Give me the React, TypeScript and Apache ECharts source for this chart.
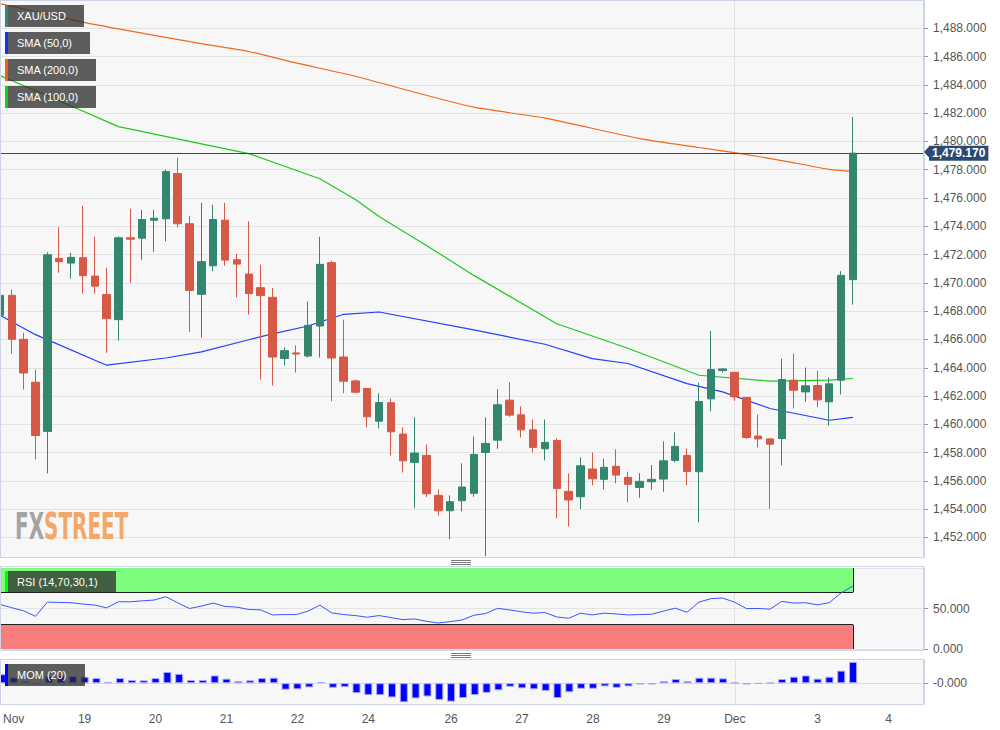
import React, { useEffect, useRef } from 'react';
import * as echarts from 'echarts';

// ---------- DATA ----------
// 4-hour candles: [open, high, low, close]
const candles: [number, number, number, number][] = [
  [1467.71, 1469.68, 1467.35, 1469.12],
  [1469.12, 1469.52, 1465.0, 1466.01],
  [1466.01, 1466.48, 1462.46, 1463.63],
  [1462.98, 1463.87, 1457.52, 1459.21],
  [1459.5, 1472.17, 1456.53, 1471.99],
  [1471.73, 1473.94, 1470.72, 1471.5],
  [1471.4, 1472.13, 1470.3, 1471.8],
  [1471.78, 1475.45, 1469.24, 1470.51],
  [1470.48, 1473.26, 1469.24, 1469.77],
  [1469.17, 1471.07, 1465.07, 1467.47],
  [1467.4, 1473.28, 1465.92, 1473.19],
  [1473.19, 1475.24, 1470.01, 1473.09],
  [1473.16, 1475.17, 1471.64, 1474.48],
  [1474.43, 1475.17, 1472.2, 1474.57],
  [1474.53, 1478.01, 1472.93, 1477.87],
  [1477.73, 1478.86, 1473.94, 1474.18],
  [1474.18, 1474.74, 1466.53, 1469.47],
  [1469.19, 1475.66, 1466.13, 1471.5],
  [1471.21, 1475.52, 1470.83, 1474.48],
  [1474.43, 1475.66, 1471.21, 1471.61],
  [1471.64, 1472.06, 1468.98, 1471.33],
  [1470.62, 1474.36, 1467.76, 1469.24],
  [1469.66, 1471.28, 1463.17, 1469.1],
  [1468.98, 1469.63, 1462.74, 1464.76],
  [1464.65, 1465.45, 1464.16, 1465.21],
  [1465.05, 1465.59, 1463.66, 1464.97],
  [1464.83, 1468.69, 1464.72, 1467.0],
  [1466.95, 1473.26, 1464.72, 1471.31],
  [1471.43, 1471.57, 1461.64, 1464.69],
  [1464.76, 1467.4, 1462.2, 1463.05],
  [1463.07, 1463.17, 1462.18, 1462.27],
  [1462.53, 1462.57, 1459.78, 1460.53],
  [1460.22, 1462.18, 1459.71, 1461.54],
  [1461.53, 1461.83, 1457.8, 1459.47],
  [1459.31, 1459.78, 1456.6, 1457.42],
  [1457.31, 1460.51, 1454.06, 1457.97],
  [1457.8, 1458.58, 1454.86, 1455.09],
  [1454.98, 1455.4, 1453.54, 1453.89],
  [1453.89, 1454.98, 1451.87, 1454.53],
  [1454.6, 1457.24, 1453.85, 1455.57],
  [1455.12, 1459.14, 1454.88, 1457.87],
  [1458.01, 1460.49, 1450.67, 1458.65],
  [1458.88, 1462.48, 1458.27, 1461.38],
  [1461.71, 1462.98, 1460.53, 1460.65],
  [1460.67, 1461.26, 1459.07, 1459.61],
  [1459.61, 1460.34, 1458.01, 1458.37],
  [1458.27, 1460.34, 1457.45, 1458.72],
  [1458.86, 1459.0, 1453.36, 1455.47],
  [1455.26, 1456.53, 1452.79, 1454.65],
  [1454.88, 1457.66, 1454.01, 1457.07],
  [1456.84, 1458.01, 1455.69, 1456.15],
  [1456.11, 1457.58, 1455.4, 1456.96],
  [1457.03, 1458.23, 1455.83, 1456.41],
  [1456.25, 1456.65, 1454.49, 1455.76],
  [1455.54, 1456.55, 1454.81, 1455.97],
  [1455.94, 1457.12, 1455.37, 1456.11],
  [1456.13, 1458.79, 1455.23, 1457.42],
  [1457.45, 1459.43, 1457.31, 1458.44],
  [1457.8, 1458.3, 1455.69, 1456.67],
  [1456.65, 1462.93, 1453.07, 1461.61],
  [1461.8, 1466.6, 1460.93, 1463.87],
  [1463.8, 1463.95, 1463.66, 1463.92],
  [1463.68, 1463.7, 1461.66, 1461.94],
  [1461.9, 1461.92, 1458.97, 1459.07],
  [1459.17, 1460.7, 1458.37, 1458.97],
  [1458.97, 1459.0, 1454.03, 1458.6],
  [1459.0, 1464.65, 1457.1, 1463.17],
  [1463.12, 1465.0, 1461.12, 1462.41],
  [1462.29, 1464.01, 1461.59, 1462.72],
  [1462.74, 1463.8, 1461.23, 1461.73],
  [1461.59, 1463.31, 1459.92, 1462.86],
  [1463.12, 1470.83, 1462.11, 1470.53],
  [1470.23, 1481.73, 1468.46, 1479.17],
];

// total slots on the time axis (candles + empty space on the right)
const slotCount = 79;

// day labels on the time axis: slot index and text
const dayTickIndex = [1, 7, 13, 19, 25, 31, 38, 44, 50, 56, 62, 69, 75];
const dayTickLabel = ['Nov', '19', '20', '21', '22', '24', '26', '27', '28', '29', 'Dec', '3', '4'];
const monthLineIndex = 62;

// moving averages read at [slot, value]
const sma50Points: [number, number][] = [
  [0, 1467.71], [3, 1466.34], [9, 1464.18], [14, 1464.69], [17, 1465.12], [21, 1465.98],
  [23, 1466.4], [26, 1466.95], [29, 1467.78], [32, 1467.94], [40, 1466.68], [46, 1465.66],
  [50, 1464.65], [53, 1464.3], [58, 1462.88], [61, 1462.29], [65, 1461.12], [70, 1460.29],
  [72, 1460.49],
];
const sma100Points: [number, number][] = [
  [0, 1484.65], [5, 1482.88], [10, 1481.05], [17, 1479.83], [21, 1479.14], [27, 1477.36],
  [30, 1475.9], [32, 1474.69], [36, 1472.65], [40, 1470.53], [47, 1467.11], [53, 1465.38],
  [59, 1463.47], [65, 1463.05], [70, 1463.12], [72, 1463.24],
];
const sma200Points: [number, number][] = [
  [0, 1489.75], [7, 1488.44], [10, 1487.96], [17, 1486.91], [21, 1486.36], [25, 1485.55],
  [30, 1484.61], [35, 1483.48], [40, 1482.42], [46, 1481.65], [54, 1480.2], [59, 1479.57],
  [62, 1479.21], [66, 1478.65], [70, 1478.03], [72, 1477.89],
];

// RSI (14) per candle
const rsiValues = [
  55, 51, 47, 40.4, 57.9, 57.5, 57.1, 55.5, 54.2, 50.8,
  58.3, 58.3, 59.5, 60.4, 64.6, 57, 50, 53, 56.7, 52.5,
  51.7, 48.8, 48.3, 42.1, 42.5, 42.5, 46.7, 54.2, 44.6, 42.5,
  41.3, 39.2, 41.3, 38.8, 36.3, 37.1, 34.2, 32.1, 33.8, 35.8,
  41.7, 43.8, 50.2, 48.3, 46, 44.2, 45, 39.6, 37.9, 44.2,
  42.1, 44.2, 43.3, 42.1, 42.5, 42.9, 46.7, 50.4, 45.4, 57.9,
  62.1, 62.9, 57.9, 50, 50, 49.2, 58.8, 56.7, 57.1, 54.6,
  57.1, 69.2, 77.9,
];
const rsiUpper = 70;
const rsiLower = 30;

// Momentum (20) per candle
const momValues = [
  9.3, 6, 2, -1, 7.5, 8, 7.5, 6.7, 5.3, 1.3,
  5.3, 3.3, 3, 5.3, 11.7, 9.7, 3.3, 3.3, 8, 4.7,
  2.3, 3, 5.3, 5.7, -6.7, -6.3, -4.3, 1, -4.7, -4,
  -10.3, -12.3, -12.3, -14.7, -19.7, -15.7, -13.7, -17.3, -19, -15.3,
  -12.3, -10, -7.3, -3.7, -5.3, -6.3, -8, -15.3, -9.3, -5.7,
  -5.7, -3.3, -4.7, -3.3, -1.3, -1.3, 2.3, 4.3, 2.3, 5.7,
  5.7, 5, 0.5, -1.3, -0.5, 0.3, 4.3, 6.7, 8, 4.7,
  6.7, 13, 22,
];

const priceMin = 1450;
const priceMax = 1490;
const priceStep = 2;

// ---------- CHART ----------
const fmt3 = (v: number) =>
  v.toLocaleString('en-US', { minimumFractionDigits: 3, maximumFractionDigits: 3 });

const UP = '#33876f';
const DOWN = '#d65846';
const FONT = '"Liberation Sans", Arial, sans-serif';
const BORDER = '#cdd4e6';
const BG = '#f7f7f7';
const NAVY = '#2b4a72';

function legendBox(x: number, y: number, w: number, h: number, stripe: string, text: string) {
  return {
    type: 'group',
    z: 60,
    children: [
      { type: 'rect', shape: { x, y, width: w, height: h }, style: { fill: 'rgba(45,45,45,0.76)' }, z: 60 },
      { type: 'rect', shape: { x, y, width: 3, height: h }, style: { fill: stripe }, z: 61 },
      {
        type: 'text',
        x: x + 12,
        y: y + h / 2,
        z: 62,
        style: { text, fill: '#ffffff', font: `11px ${FONT}`, verticalAlign: 'middle', align: 'left' },
      },
    ],
  };
}

function separator(cx: number, y: number) {
  return {
    type: 'group',
    z: 70,
    children: [0, 2, 4].map((d) => ({
      type: 'line',
      z: 70,
      shape: { x1: cx - 10, y1: y + d + 0.5, x2: cx + 10, y2: y + d + 0.5 },
      style: { stroke: '#7a7a7a', lineWidth: 1 },
    })),
  };
}

export default function App() {
  const ref = useRef<HTMLDivElement>(null);

  useEffect(() => {
    if (!ref.current) return;
    const chart = echarts.init(ref.current, null, { renderer: 'svg' });

    const categories = Array.from({ length: slotCount }, (_, i) => 'c' + i);
    const lastIdx = candles.length - 1;
    const lastClose = candles[lastIdx][3];
    const candleData = candles.map(([o, h, l, c]) => [o, c, l, h]);
    const toLine = (pts: [number, number][]) => pts.map(([i, v]) => [categories[i], v]);

    const makeX = (gridIndex: number, showLabels: boolean) => ({
      type: 'category',
      gridIndex,
      data: categories,
      boundaryGap: false,
      axisLine: { show: false },
      axisTick: { show: false },
      axisLabel: showLabels
        ? {
            show: true,
            interval: (index: number) => dayTickIndex.includes(index),
            formatter: (_v: string, index: number) => {
              const k = dayTickIndex.indexOf(index);
              return k >= 0 ? dayTickLabel[k] : '';
            },
            color: '#555',
            fontSize: 12,
            fontFamily: FONT,
            margin: 8,
          }
        : { show: false },
      splitLine: {
        show: true,
        interval: (index: number) => index === monthLineIndex,
        lineStyle: { color: '#e2e2e2', width: 1 },
      },
    });

    const option: any = {
      animation: false,
      backgroundColor: '#ffffff',
      textStyle: { fontFamily: FONT },
      grid: [
        { left: 0, right: 76, top: -0.83, height: 566.6, show: true, backgroundColor: BG, borderWidth: 0 },
        { left: 0, right: 76, top: 568, height: 81, show: true, backgroundColor: BG, borderWidth: 0 },
        { left: 0, right: 76, top: 659.5, height: 45, show: true, backgroundColor: BG, borderWidth: 0 },
      ],
      xAxis: [makeX(0, false), makeX(1, false), makeX(2, true)],
      yAxis: [
        {
          type: 'value',
          gridIndex: 0,
          position: 'right',
          min: priceMin,
          max: priceMax,
          interval: priceStep,
          axisLine: { show: true, lineStyle: { color: BORDER } },
          axisTick: { show: true, length: 4, lineStyle: { color: '#999' } },
          axisLabel: {
            color: '#555',
            fontSize: 12,
            margin: 9,
            showMinLabel: false,
            showMaxLabel: false,
            formatter: (v: number) => fmt3(v),
          },
          splitLine: { show: true, lineStyle: { color: '#e3e3e3' } },
        },
        {
          type: 'value',
          gridIndex: 1,
          position: 'right',
          min: 0,
          max: 100,
          interval: 50,
          axisLine: { show: true, lineStyle: { color: BORDER } },
          axisTick: { show: true, length: 4, lineStyle: { color: '#999' } },
          axisLabel: {
            color: '#555',
            fontSize: 12,
            margin: 9,
            showMaxLabel: false,
            formatter: (v: number) => fmt3(v),
          },
          splitLine: { show: true, lineStyle: { color: '#e3e3e3' } },
        },
        {
          type: 'value',
          gridIndex: 2,
          position: 'right',
          min: -22,
          max: 24.5,
          axisLine: { show: true, lineStyle: { color: BORDER } },
          axisTick: { show: true, length: 4, lineStyle: { color: '#999' }, customValues: [0] },
          axisLabel: {
            color: '#555',
            fontSize: 12,
            margin: 9,
            customValues: [0],
            formatter: (v: number) => (v === 0 ? '-0.000' : ''),
          },
          splitLine: { show: false },
        },
      ],
      series: [
        {
          type: 'candlestick',
          name: 'XAU/USD',
          xAxisIndex: 0,
          yAxisIndex: 0,
          data: candleData,
          barWidth: 8,
          z: 5,
          itemStyle: {
            color: UP,
            color0: DOWN,
            borderColor: UP,
            borderColor0: DOWN,
            borderWidth: 1,
          },
          markLine: {
            silent: true,
            symbol: ['none', 'none'],
            lineStyle: { color: NAVY, width: 1, type: 'solid' },
            label: {
              show: true,
              position: 'end',
              formatter: () => fmt3(lastClose),
              color: '#ffffff',
              fontWeight: 'bold',
              fontSize: 12,
              backgroundColor: NAVY,
              padding: [2, 3, 1, 3],
              distance: 5,
            },
            data: [{ yAxis: lastClose }],
          },
        },
        {
          type: 'line',
          name: 'SMA (200,0)',
          xAxisIndex: 0,
          yAxisIndex: 0,
          data: toLine(sma200Points),
          symbol: 'none',
          smooth: 0.2,
          z: 4,
          lineStyle: { color: '#ee6a1a', width: 1.2 },
        },
        {
          type: 'line',
          name: 'SMA (100,0)',
          xAxisIndex: 0,
          yAxisIndex: 0,
          data: toLine(sma100Points),
          symbol: 'none',
          z: 4,
          lineStyle: { color: '#1ec81e', width: 1.2 },
        },
        {
          type: 'line',
          name: 'SMA (50,0)',
          xAxisIndex: 0,
          yAxisIndex: 0,
          data: toLine(sma50Points),
          symbol: 'none',
          z: 4,
          lineStyle: { color: '#2040ff', width: 1.2 },
        },
        {
          type: 'line',
          name: 'RSI',
          xAxisIndex: 1,
          yAxisIndex: 1,
          data: rsiValues,
          symbol: 'none',
          z: 5,
          lineStyle: { color: '#3a55ff', width: 1 },
          markArea: {
            silent: true,
            data: [
              [
                { xAxis: categories[0], yAxis: rsiUpper, itemStyle: { color: '#7dfc7d' } },
                { xAxis: categories[lastIdx], yAxis: 100 },
              ],
              [
                { xAxis: categories[0], yAxis: 0, itemStyle: { color: '#f87d7d' } },
                { xAxis: categories[lastIdx], yAxis: rsiLower },
              ],
            ],
          },
          markLine: {
            silent: true,
            symbol: ['none', 'none'],
            label: { show: false },
            lineStyle: { color: '#1e1e1e', width: 1, type: 'solid' },
            data: [
              [{ coord: [categories[0], rsiUpper] }, { coord: [categories[lastIdx], rsiUpper] }],
              [{ coord: [categories[lastIdx], rsiUpper] }, { coord: [categories[lastIdx], 100] }],
              [{ coord: [categories[0], rsiLower] }, { coord: [categories[lastIdx], rsiLower] }],
              [{ coord: [categories[lastIdx], 0] }, { coord: [categories[lastIdx], rsiLower] }],
            ],
          },
        },
        {
          type: 'bar',
          name: 'MOM',
          xAxisIndex: 2,
          yAxisIndex: 2,
          data: momValues,
          barWidth: 8,
          z: 5,
          itemStyle: { color: '#0000ff', borderColor: '#a8a8ff', borderWidth: 1 },
          markLine: {
            silent: true,
            symbol: ['none', 'none'],
            label: { show: false },
            lineStyle: { color: '#dcdcdc', width: 1, type: 'solid' },
            data: [{ yAxis: 0 }],
          },
        },
      ],
      graphic: [
        // watermark
        {
          type: 'text',
          x: 15,
          y: 508,
          scaleX: 0.6,
          z: 1,
          style: {
            text: '{a|FX}{b|STREET}',
            rich: {
              a: { fill: '#a4a4a4', fontSize: 37, fontWeight: 'bold', fontFamily: '"Liberation Sans Narrow", "DejaVu Sans Condensed", sans-serif' },
              b: { fill: '#f2a86a', fontSize: 37, fontWeight: 'bold', fontFamily: '"Liberation Sans Narrow", "DejaVu Sans Condensed", sans-serif' },
            },
          },
        },
        // white gap under main panel
        { type: 'rect', z: 50, shape: { x: 0, y: 557.5, width: 1000, height: 8.5 }, style: { fill: '#ffffff' } },
        // panel borders
        { type: 'rect', z: 55, shape: { x: 0.5, y: 0.5, width: 923, height: 557 }, style: { fill: 'none', stroke: BORDER, lineWidth: 1 } },
        { type: 'rect', z: 55, shape: { x: 0.5, y: 566.5, width: 923, height: 84 }, style: { fill: 'none', stroke: BORDER, lineWidth: 1 } },
        { type: 'rect', z: 55, shape: { x: 0.5, y: 659.5, width: 923, height: 45 }, style: { fill: 'none', stroke: BORDER, lineWidth: 1 } },
        // price tag arrow tip
        {
          type: 'polygon',
          z: 58,
          shape: { points: [[924, 152], [929, 146.5], [929, 157.5]] },
          style: { fill: NAVY },
        },
        separator(461, 560),
        separator(461, 653),
        legendBox(5, 5, 79, 22, '#2e8b77', 'XAU/USD'),
        legendBox(5, 32, 85, 22, '#1030ff', 'SMA (50,0)'),
        legendBox(5, 59, 91, 22, '#f06010', 'SMA (200,0)'),
        legendBox(5, 86, 91, 22, '#10d010', 'SMA (100,0)'),
        legendBox(5, 571, 111, 21, '#00ff00', 'RSI (14,70,30,1)'),
        legendBox(5, 664, 80, 22, '#0000ff', 'MOM (20)'),
      ],
    };

    chart.setOption(option);
    return () => chart.dispose();
  }, []);

  return (
    <div
      ref={ref}
      style={{ position: 'absolute', left: 0, top: 0, width: 1000, height: 730 }}
    />
  );
}
